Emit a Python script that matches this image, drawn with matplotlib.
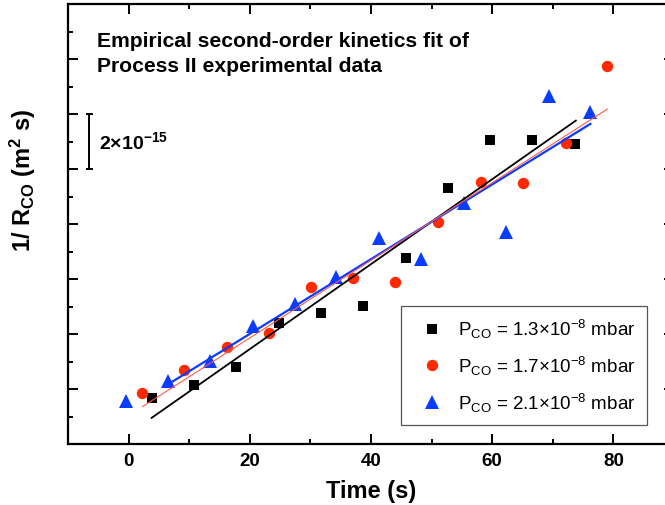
import matplotlib
matplotlib.use("Agg")
import matplotlib.pyplot as plt
from matplotlib import font_manager
from matplotlib.ticker import MultipleLocator

names = {f.name for f in font_manager.fontManager.ttflist}
FONT = "Liberation Sans Narrow" if "Liberation Sans Narrow" in names else "Liberation Sans"
plt.rcParams['font.family'] = [FONT, 'DejaVu Sans']
plt.rcParams['mathtext.fontset'] = 'custom'
plt.rcParams['mathtext.rm'] = FONT
plt.rcParams['mathtext.it'] = FONT + ':italic'
plt.rcParams['mathtext.bf'] = FONT + ':bold'

# ---- data (y in units of 1e-15 m^2 s, arbitrary offset) ----
t_13 = [3.8, 10.8, 17.7, 24.8, 31.7, 38.7, 45.7, 52.7, 59.7, 66.6, 73.7]
r_13 = [1.66, 2.15, 2.79, 4.40, 4.75, 5.03, 6.76, 9.30, 11.07, 11.07, 10.91]

t_17 = [2.2, 9.2, 16.2, 23.2, 30.1, 37.1, 44.0, 51.1, 58.1, 65.1, 72.1, 79.0]
r_17 = [1.84, 2.69, 3.54, 4.03, 5.72, 6.04, 5.88, 8.06, 9.52, 9.49, 10.95, 13.76]

t_21 = [-0.5, 6.5, 13.4, 20.5, 27.4, 34.3, 41.4, 48.3, 55.3, 62.3, 69.4, 76.2]
r_21 = [1.57, 2.28, 3.03, 4.28, 5.09, 6.06, 7.49, 6.73, 8.75, 7.72, 12.67, 12.06]

fit_t_13 = [3.8, 73.8]
fit_r_13 = [0.95, 11.76]
fit_t_17 = [2.3, 79.0]
fit_r_17 = [1.36, 12.18]
fit_t_21 = [6.5, 76.2]
fit_r_21 = [2.17, 11.64]

labels = [r'P$_{\mathrm{CO}}$ = 1.3×10$^{-8}$ mbar',
          r'P$_{\mathrm{CO}}$ = 1.7×10$^{-8}$ mbar',
          r'P$_{\mathrm{CO}}$ = 2.1×10$^{-8}$ mbar']

BLACK = '#000000'
RED = '#ff2a00'
BLUE = '#0a3cff'

fig = plt.figure(figsize=(6.65, 5.06), dpi=100)
ax = fig.add_axes([68/665, 61/506, 606/665, 440/506])

h1, = ax.plot(t_13, r_13, 's', color=BLACK, ms=7.3, mew=0, label=labels[0], zorder=3)
h2, = ax.plot(t_17, r_17, 'o', color=RED, ms=8.2, mew=0, label=labels[1], zorder=3)
h3, = ax.plot(t_21, r_21, '^', color=BLUE, ms=9.8, mew=0, label=labels[2], zorder=3)

ax.plot(fit_t_13, fit_r_13, '-', color=BLACK, lw=1.3, zorder=4)
ax.plot(fit_t_21, fit_r_21, '-', color=BLUE, lw=1.6, zorder=4)
ax.plot(fit_t_17, fit_r_17, '-', color='#ff5a4a', lw=0.8, zorder=4)

ax.set_xlim(-10, 90)
ax.set_ylim(0, 16)
ax.xaxis.set_major_locator(MultipleLocator(20))
ax.xaxis.set_minor_locator(MultipleLocator(10))
ax.yaxis.set_major_locator(MultipleLocator(2))
ax.yaxis.set_minor_locator(MultipleLocator(1))
ax.tick_params(which='both', direction='in', top=True, right=True, width=1.4)
ax.tick_params(which='major', length=7)
ax.tick_params(which='minor', length=3.6)
ax.tick_params(axis='x', labelsize=13.5, pad=6)
ax.set_yticklabels([])
for lab in ax.get_xticklabels():
    lab.set_fontweight('bold')
for s in ax.spines.values():
    s.set_linewidth(1.6)

ax.set_xlabel('Time (s)', fontsize=17, fontweight='bold', labelpad=7)
ax.set_ylabel(r'1/ R$_{\mathbf{CO}}$ (m$^{\mathbf{2}}$ s)', fontsize=17, fontweight='bold')
ax.yaxis.set_label_coords(-0.05, 0.6)

# title text
ax.text(-5.2, 14.48, 'Empirical second-order kinetics fit of', fontsize=15.2,
        fontweight='bold', va='baseline', ha='left')
ax.text(-5.2, 13.57, 'Process II experimental data', fontsize=15.2,
        fontweight='bold', va='baseline', ha='left')

# scale bar
scale_x = -6.5
scale_y = [10, 12]
ax.plot([scale_x, scale_x], scale_y, color='black', lw=1.4)
ax.plot([scale_x - 0.4, scale_x + 0.4], [scale_y[0]] * 2, color='black', lw=1.4)
ax.plot([scale_x - 0.4, scale_x + 0.4], [scale_y[1]] * 2, color='black', lw=1.4)
ax.text(-4.9, 11, r'2×10$^{\mathbf{-15}}$', fontsize=14, fontweight='bold',
        va='center', ha='left')

leg = ax.legend(handles=[h1, h2, h3], loc='upper right',
                bbox_to_anchor=(647/665, (506-307)/506), bbox_transform=fig.transFigure,
                fontsize=13.5, frameon=True, fancybox=False, framealpha=1,
                edgecolor='#555555', handlelength=2.1, handletextpad=0.35,
                borderpad=0.6, labelspacing=0.72, borderaxespad=0, numpoints=1)
leg.get_frame().set_linewidth(0.9)

fig.savefig('out.png', dpi=100)
